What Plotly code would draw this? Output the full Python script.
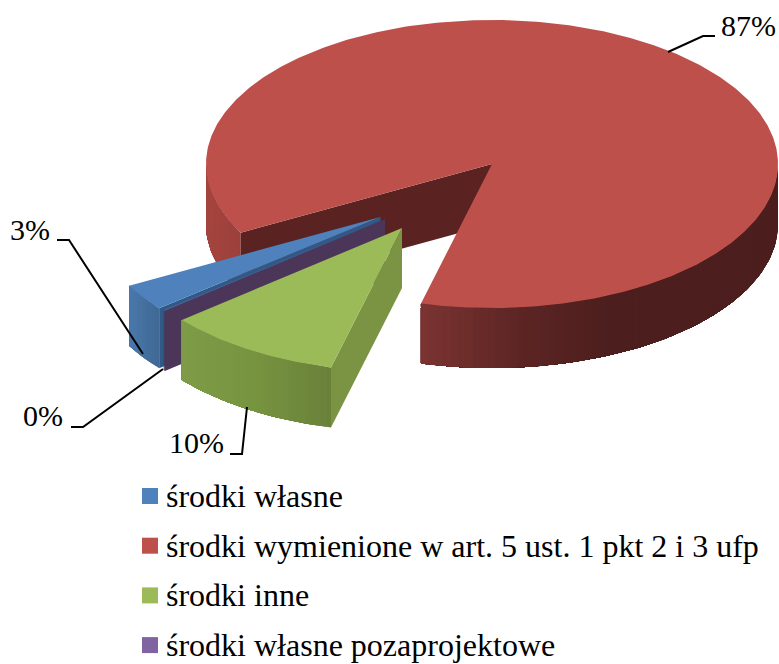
import math
import plotly.graph_objects as go

# Data
categories = ["środki własne", "środki wymienione w art. 5 ust. 1 pkt 2 i 3 ufp", "środki inne", "środki własne pozaprojektowe"]
values = [3, 87, 10, 0.1]
percent_labels = ["3%", "87%", "10%", "0%"]

# Style / geometry of the exploded 3-D pie (page pixels)
PAGE_W, PAGE_H = 779, 664
START_ANGLE = 230.7          # clockwise from 12 o'clock
RX, RY, DEPTH = 286, 144, 60
APEX = [(380.5, 217), (492, 164), (402, 228), (385, 219)]
TOP = ["#4f81bd", "#be504c", "#9bbb59", "#8064a2"]
INNER = ["#2f5a87", "#5a2322", "#7a9444", "#4b3659"]
WALL_STOPS = [
    [(129, "#4a78ab"), (160, "#3f6893")],
    [(206, "#a5443f"), (241, "#9c403c"), (420, "#7b3432"), (520, "#5c2524"), (610, "#4c1e1d"), (779, "#4c1e1d")],
    [(182, "#7e9c48"), (260, "#76933f"), (330, "#6a813a")],
    [(160, "#4b3659"), (170, "#4b3659")],
]
LABEL_POS = [(30, 229), (748, 25), (196, 442), (43, 415)]
LEADERS = [
    [(57, 240), (69, 240), (143, 354)],
    [(668, 52), (703, 36), (715, 36)],
    [(230, 454), (242, 454), (247, 407)],
    [(71, 427), (83, 427), (163, 369)],
]
LEGEND_MARK_X, LEGEND_TEXT_X, LEGEND_Y0, LEGEND_DY = 150, 165, 496, 49.7


def hex_rgb(c):
    return tuple(int(c[i:i + 2], 16) for i in (1, 3, 5))


def wall_colour(stops, x):
    if x <= stops[0][0]:
        return stops[0][1]
    for (x0, c0), (x1, c1) in zip(stops, stops[1:]):
        if x <= x1:
            t = (x - x0) / (x1 - x0)
            a, b = hex_rgb(c0), hex_rgb(c1)
            return "#%02x%02x%02x" % tuple(round(p + (q - p) * t) for p, q in zip(a, b))
    return stops[-1][1]


def rim(apex, deg):
    r = math.radians(deg)
    return apex[0] + RX * math.sin(r), apex[1] - RY * math.cos(r)


def poly(pts, colour):
    xs = [p[0] for p in pts] + [pts[0][0]]
    ys = [p[1] for p in pts] + [pts[0][1]]
    return go.Scatter(x=xs, y=ys, mode="lines", fill="toself", fillcolor=colour,
                      line=dict(color=colour, width=0), hoverinfo="skip", showlegend=False)


def add_wall(apex, a0, a1, stops, step=1.5):
    """Shaded outer wall: each band overpaints the rest of the arc, so no seams show."""
    n = max(1, int(abs(a1 - a0) / step))
    angs = [a0 + (a1 - a0) * k / n for k in range(n + 1)]
    for k in range(n):
        top = [rim(apex, t) for t in angs[k:]]
        bottom = [(x, y + DEPTH) for x, y in reversed(top)]
        mid = (top[0][0] + top[1][0]) / 2
        fig.add_trace(poly(top + bottom, wall_colour(stops, mid)))


fig = go.Figure()
total = sum(values)
spans = []
a = START_ANGLE
for v in values:
    b = a + v / total * 360
    spans.append((a, b))
    a = b

for i in [1, 0, 3, 2]:
    s, e = spans[i]
    ap = APEX[i]
    p_s = rim(ap, s)
    if i == 1:
        add_wall(ap, s, 270, WALL_STOPS[i])
        add_wall(ap, 450, e, WALL_STOPS[i])
    else:
        add_wall(ap, s, e, WALL_STOPS[i], step=1.0)
    # cut face on the side that looks towards the viewer
    fig.add_trace(poly([ap, p_s, (p_s[0], p_s[1] + DEPTH), (ap[0], ap[1] + DEPTH)], INNER[i]))
    n = max(2, int((e - s) * 1.5))
    fig.add_trace(poly([ap] + [rim(ap, s + (e - s) * k / n) for k in range(n + 1)], TOP[i]))

# Leader lines
for pts in LEADERS:
    fig.add_trace(go.Scatter(x=[p[0] for p in pts], y=[p[1] for p in pts], mode="lines",
                             line=dict(color="#000000", width=2), hoverinfo="skip", showlegend=False))

# Percent labels
for txt, (x, y) in zip(percent_labels, LABEL_POS):
    fig.add_annotation(x=x, y=y, text=txt, showarrow=False, xanchor="center", yanchor="middle",
                       font=dict(family="Liberation Serif", size=30, color="#000000"))

# Legend
for k, (name, col) in enumerate(zip(categories, TOP)):
    y = LEGEND_Y0 + k * LEGEND_DY
    fig.add_trace(go.Scatter(x=[LEGEND_MARK_X], y=[y], mode="markers", name=name, showlegend=False,
                             marker=dict(symbol="square", size=16, color=col, line=dict(width=0)),
                             hoverinfo="name"))
    fig.add_annotation(x=LEGEND_TEXT_X, y=y, text=name, showarrow=False, xanchor="left", yanchor="middle",
                       xshift=-1, font=dict(family="Liberation Serif", size=32, color="#000000"))

fig.update_layout(
    width=PAGE_W, height=PAGE_H, margin=dict(l=0, r=0, t=0, b=0),
    paper_bgcolor="white", plot_bgcolor="white", showlegend=False,
    xaxis=dict(range=[0, PAGE_W], visible=False, fixedrange=True),
    yaxis=dict(range=[PAGE_H, 0], visible=False, fixedrange=True),
)
fig.write_html("out.html", config={"displayModeBar": False},
               post_script="document.body.style.margin='0';document.documentElement.style.overflow='hidden';")
